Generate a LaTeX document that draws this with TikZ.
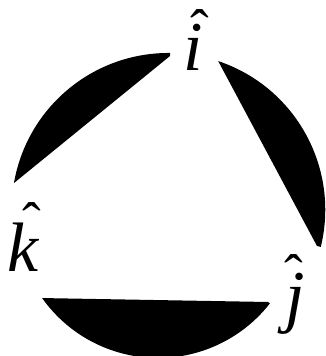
\documentclass[tikz,border=0pt]{standalone}
\usepackage{fontspec}
\setmainfont{Liberation Serif}
\newcommand\hatl[3]{\ooalign{#1\cr\hfil\raisebox{#2}{\makebox[0pt]{\hspace*{#3}{\fontsize{56}{56}\selectfont\upshape\char"02C6}}}\hfil\cr}}
\tikzset{
  seg/.style={fill=black},
  lbl/.style={inner sep=0pt, anchor=base, font=\fontsize{70}{70}\selectfont\itshape}
}
\begin{document}
\begin{tikzpicture}[x=1pt,y=1pt]
\useasboundingbox (0,0) rectangle (326,356);
% top-left segment
\fill[seg] (14,173) -- (170,300) -- (170.1,303) arc[start angle=89.4, end angle=170.2, radius=156.8] -- cycle;
% right segment
\fill[seg] (218.2,294.9) arc[start angle=71.5, end angle=-13.7, radius=156.8] -- (317,110) -- cycle;
% bottom segment
\fill[seg] (158,140) ++(215.3:142) arc[start angle=215.3, end angle=322, radius=142] -- (268,54) -- cycle;
% labels
\node[lbl] (i) at (193,285) {\hatl{i}{22.6pt}{14pt}};
\node[lbl] (k) at (22.7,84) {\hatl{k}{30.6pt}{18.6pt}};
\node[lbl] (j) at (295.4,36) {\hatl{j}{26.6pt}{-3.8pt}};
\end{tikzpicture}
\end{document}
